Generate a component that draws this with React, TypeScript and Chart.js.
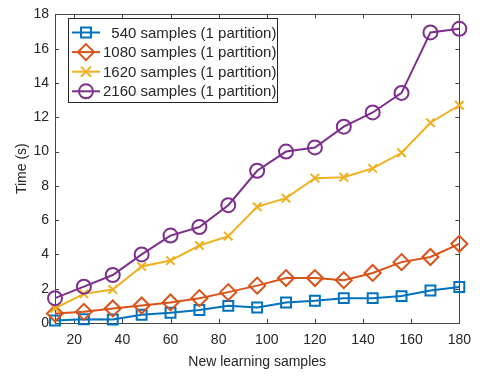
import React, { useEffect, useRef } from 'react';
import { Chart, registerables } from 'chart.js';

Chart.register(...registerables);

const xValues = [12, 24, 36, 48, 60, 72, 84, 96, 108, 120, 132, 144, 156, 168, 180];
const s540 = [0.15, 0.22, 0.2, 0.48, 0.6, 0.76, 1.0, 0.9, 1.2, 1.3, 1.45, 1.45, 1.57, 1.9, 2.1];
const s1080 = [0.55, 0.65, 0.85, 1.02, 1.2, 1.45, 1.8, 2.18, 2.62, 2.62, 2.5, 2.92, 3.55, 3.85, 4.62];
const s1620 = [0.86, 1.7, 1.95, 3.3, 3.64, 4.52, 5.07, 6.78, 7.28, 8.45, 8.5, 9.02, 9.93, 11.68, 12.7];
const s2160 = [1.45, 2.12, 2.8, 4.0, 5.1, 5.6, 6.87, 8.88, 10.0, 10.24, 11.45, 12.28, 13.42, 16.95, 17.16];
const seriesLabels = [
  '  540 samples (1 partition)',
  '1080 samples (1 partition)',
  '1620 samples (1 partition)',
  '2160 samples (1 partition)',
];
const xTicks = [20, 40, 60, 80, 100, 120, 140, 160, 180];
const yTicks = [0, 2, 4, 6, 8, 10, 12, 14, 16, 18];
const xTitle = 'New learning samples';
const yTitle = 'Time (s)';

const colors = ['#0072BD', '#D95319', '#EDB120', '#7E2F8E'];
const pointStyles = ['rect', 'rectRot', 'crossRot', 'circle'];
const pointRadii = [7, 8, 6, 7];
const FONT = '"Liberation Sans", Arial, Helvetica, sans-serif';
const TEXT = '#262626';

function drawMarker(ctx: CanvasRenderingContext2D, style: string, x: number, y: number, r: number) {
  ctx.beginPath();
  if (style === 'rect') {
    const s = Math.SQRT1_2 * r;
    ctx.rect(x - s, y - s, 2 * s, 2 * s);
  } else if (style === 'rectRot') {
    ctx.moveTo(x, y - r);
    ctx.lineTo(x + r, y);
    ctx.lineTo(x, y + r);
    ctx.lineTo(x - r, y);
    ctx.closePath();
  } else if (style === 'crossRot') {
    const s = Math.SQRT1_2 * r * 1.2;
    ctx.moveTo(x - s, y - s);
    ctx.lineTo(x + s, y + s);
    ctx.moveTo(x - s, y + s);
    ctx.lineTo(x + s, y - s);
  } else {
    ctx.arc(x, y, r, 0, Math.PI * 2);
  }
  ctx.stroke();
}

const framePlugin = {
  id: 'frame',
  beforeDatasetsDraw(chart: any) {
    const { ctx, chartArea } = chart;
    const { left, right, top, bottom } = chartArea;
    const xs = chart.scales.x;
    const ys = chart.scales.y;
    ctx.save();
    ctx.strokeStyle = '#444';
    ctx.lineWidth = 1;
    ctx.strokeRect(Math.round(left) + 0.5, Math.round(top) + 0.5, Math.round(right - left), Math.round(bottom - top));
    const tl = 4;
    ctx.beginPath();
    xTicks.forEach((v) => {
      const px = Math.round(xs.getPixelForValue(v)) + 0.5;
      ctx.moveTo(px, bottom);
      ctx.lineTo(px, bottom - tl);
      ctx.moveTo(px, top);
      ctx.lineTo(px, top + tl);
    });
    yTicks.forEach((v) => {
      const py = Math.round(ys.getPixelForValue(v)) + 0.5;
      ctx.moveTo(left, py);
      ctx.lineTo(left + tl, py);
      ctx.moveTo(right, py);
      ctx.lineTo(right - tl, py);
    });
    ctx.stroke();
    ctx.restore();
  },
};

const legendPlugin = {
  id: 'boxLegend',
  afterDraw(chart: any) {
    const { ctx } = chart;
    const bx = 68, by = 18, bw = 209, bh = 84;
    ctx.save();
    ctx.fillStyle = '#ffffff';
    ctx.fillRect(bx, by, bw, bh);
    ctx.strokeStyle = TEXT;
    ctx.lineWidth = 1;
    ctx.strokeRect(bx + 0.5, by + 0.5, bw, bh);
    chart.data.datasets.forEach((ds: any, i: number) => {
      const cy = by + 14.5 + i * 19.6;
      ctx.strokeStyle = ds.borderColor;
      ctx.lineWidth = 2;
      ctx.beginPath();
      ctx.moveTo(bx + 4, cy);
      ctx.lineTo(bx + 32, cy);
      ctx.stroke();
      drawMarker(ctx, ds.pointStyle, bx + 18, cy, ds.pointRadius);
      ctx.fillStyle = TEXT;
      ctx.font = `15px ${FONT}`;
      ctx.textBaseline = 'middle';
      ctx.textAlign = 'left';
      ctx.fillText(ds.label, bx + 35, cy + 1);
    });
    ctx.restore();
  },
};

export default function App() {
  const ref = useRef<HTMLCanvasElement | null>(null);
  useEffect(() => {
    document.body.style.margin = '0';
    const seriesValues = [s540, s1080, s1620, s2160];
    const chart = new Chart(ref.current as HTMLCanvasElement, {
      type: 'line',
      data: {
        datasets: seriesValues.map((vals, i) => ({
          label: seriesLabels[i],
          data: xValues.map((x, j) => ({ x, y: vals[j] })),
          borderColor: colors[i],
          backgroundColor: 'rgba(0,0,0,0)',
          pointBackgroundColor: 'rgba(0,0,0,0)',
          pointBorderColor: colors[i],
          pointStyle: pointStyles[i] as any,
          pointRadius: pointRadii[i],
          pointBorderWidth: 2,
          borderWidth: 2,
          tension: 0,
          clip: false as any,
          order: 3 - i,
        })),
      },
      options: {
        responsive: false,
        animation: false,
        devicePixelRatio: 1,
        layout: { padding: { left: 0, top: 6, right: 20, bottom: 0 } },
        plugins: { legend: { display: false }, tooltip: { enabled: false } },
        scales: {
          x: {
            type: 'linear',
            min: 12,
            max: 180,
            afterBuildTicks: (s: any) => { s.ticks = xTicks.map((v) => ({ value: v })); },
            afterFit: (s: any) => { s.height = 53; },
            grid: { display: false, drawTicks: false },
            border: { display: false },
            ticks: { color: TEXT, font: { family: FONT, size: 14 }, padding: 9, maxRotation: 0 },
            title: { display: true, text: xTitle, color: TEXT, font: { family: FONT, size: 14 }, padding: { top: 5, bottom: 5 } },
          },
          y: {
            type: 'linear',
            min: 0,
            max: 18,
            afterBuildTicks: (s: any) => { s.ticks = yTicks.map((v) => ({ value: v })); },
            afterFit: (s: any) => { s.width = 55; },
            grid: { display: false, drawTicks: false },
            border: { display: false },
            ticks: { color: TEXT, font: { family: FONT, size: 14 }, padding: 6 },
            title: { display: true, text: yTitle, color: TEXT, font: { family: FONT, size: 14 }, padding: { top: 14, bottom: 14 } },
          },
        },
      },
      plugins: [framePlugin, legendPlugin],
    });
    return () => chart.destroy();
  }, []);
  return (
    <div style={{ width: 480, height: 376 }}>
      <canvas ref={ref} width={480} height={376} style={{ display: 'block' }} />
    </div>
  );
}
